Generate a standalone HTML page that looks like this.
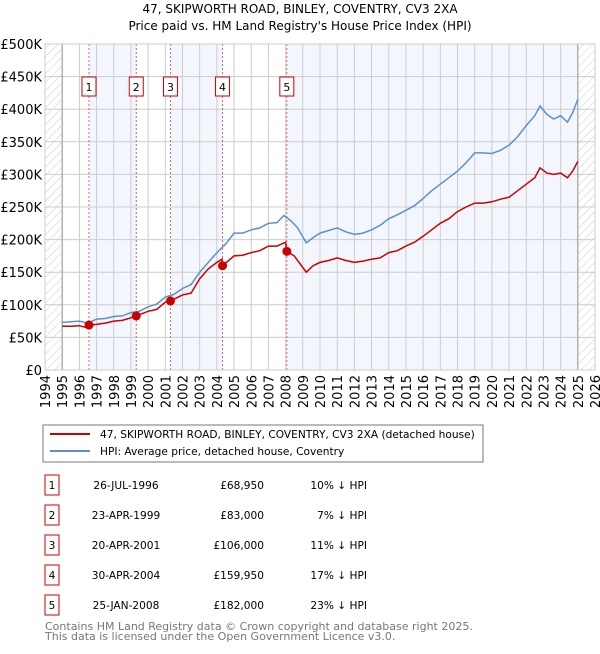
<!DOCTYPE html>
<html><head><meta charset="utf-8"><style>
body{margin:0;background:#fff;font-family:"DejaVu Sans","Liberation Sans",sans-serif;}
svg text{font-family:"DejaVu Sans","Liberation Sans",sans-serif;}
</style></head><body>
<svg id="c" width="600" height="650" xmlns="http://www.w3.org/2000/svg">
<defs><pattern id="hatch" width="6" height="6" patternUnits="userSpaceOnUse" patternTransform="rotate(45)"><line x1="0" y1="0" x2="0" y2="6" stroke="#ccc" stroke-width="1"/></pattern></defs>
<text x="300" y="13" text-anchor="middle" font-size="12">47, SKIPWORTH ROAD, BINLEY, COVENTRY, CV3 2XA</text>
<text x="300" y="30" text-anchor="middle" font-size="12">Price paid vs. HM Land Registry's House Price Index (HPI)</text>
<g id="plot"></g>
<rect x="43" y="425" width="440" height="37" fill="#fff" stroke="#777"/>
<line x1="50" y1="434" x2="90" y2="434" stroke="#cc0000" stroke-width="2"/>
<text x="100" y="438" font-size="10.6">47, SKIPWORTH ROAD, BINLEY, COVENTRY, CV3 2XA (detached house)</text>
<line x1="50" y1="451" x2="90" y2="451" stroke="#5b8fd4" stroke-width="2"/>
<text x="100" y="455" font-size="10.6">HPI: Average price, detached house, Coventry</text>
<g id="table" font-size="10.6"></g>
<text x="45" y="630" font-size="11" fill="#777">Contains HM Land Registry data © Crown copyright and database right 2025.</text>
<text x="45" y="640" font-size="11" fill="#777">This data is licensed under the Open Government Licence v3.0.</text>
</svg>
<script>
const hpiYears=[1995,1995.5,1996,1996.5,1997,1997.5,1998,1998.5,1999,1999.5,2000,2000.5,2001,2001.5,2002,2002.5,2003,2003.5,2004,2004.5,2005,2005.5,2006,2006.5,2007,2007.5,2007.9,2008.3,2008.7,2009.2,2009.6,2010,2010.5,2011,2011.5,2012,2012.5,2013,2013.5,2014,2014.5,2015,2015.5,2016,2016.5,2017,2017.5,2018,2018.5,2019,2019.5,2020,2020.5,2021,2021.5,2022,2022.5,2022.8,2023.2,2023.6,2024,2024.4,2024.7,2025];
const hpiValues=[73,74,75,72,78,79,82,83,88,90,97,101,112,116,125,131,150,165,180,193,210,210,215,218,225,226,237,229,218,195,203,210,214,218,212,208,210,215,222,232,238,245,252,263,275,285,295,305,318,333,333,332,337,345,358,375,390,405,392,385,390,380,395,415];
const priceYears=[1995,1995.5,1996,1996.4,1996.56,1997,1997.5,1998,1998.5,1999,1999.31,2000,2000.5,2001,2001.3,2002,2002.5,2003,2003.5,2004,2004.3,2004.33,2005,2005.5,2006,2006.5,2007,2007.5,2008,2008.07,2008.5,2009.2,2009.6,2010,2010.5,2011,2011.5,2012,2012.5,2013,2013.5,2014,2014.5,2015,2015.5,2016,2016.5,2017,2017.5,2018,2018.5,2019,2019.5,2020,2020.5,2021,2021.5,2022,2022.5,2022.8,2023.2,2023.6,2024,2024.4,2024.7,2025];
const priceValues=[67,67,68,65,69,70,72,75,76,80,83,90,93,104,106,115,118,140,155,165,170,159.95,175,176,180,183,190,190,196,182,175,150,160,165,168,172,168,165,167,170,172,180,183,190,196,205,215,225,232,243,250,256,256,258,262,265,275,285,295,310,302,300,302,295,305,320];
const saleYears=[1996.56,1999.31,2001.30,2004.33,2008.07];
const salePrices=[68950,83000,106000,159950,182000];
const saleDates=["26-JUL-1996","23-APR-1999","20-APR-2001","30-APR-2004","25-JAN-2008"];
const salePriceLabels=["£68,950","£83,000","£106,000","£159,950","£182,000"];
const saleDiffs=["10% ↓ HPI","7% ↓ HPI","11% ↓ HPI","17% ↓ HPI","23% ↓ HPI"];
const yTicks=[0,50,100,150,200,250,300,350,400,450,500];
const yTickLabels=["£0","£50K","£100K","£150K","£200K","£250K","£300K","£350K","£400K","£450K","£500K"];
const xTicks=[1994,1995,1996,1997,1998,1999,2000,2001,2002,2003,2004,2005,2006,2007,2008,2009,2010,2011,2012,2013,2014,2015,2016,2017,2018,2019,2020,2021,2022,2023,2024,2025,2026];

const L=45,R=595,T=44,B=370;
const X=y=>L+(y-1994)/32*(R-L);
const Y=v=>B-v/500*(B-T);
const NS="http://www.w3.org/2000/svg";
const g=document.getElementById('plot');
function mk(tag,attrs,parent){const e=document.createElementNS(NS,tag);for(const k in attrs)e.setAttribute(k,attrs[k]);(parent||g).appendChild(e);return e;}
let e;
e=mk('rect',{x:L,y:T,width:R-L,height:B-T,fill:'#fff'});


const bands=[[saleYears[0],saleYears[1]],[saleYears[2],saleYears[3]],[saleYears[4],2025]];
bands.forEach(b=>{e=mk('rect',{x:X(b[0]),y:T,width:X(b[1])-X(b[0]),height:B-T,fill:'#f3f7fd'});

});
e=mk('rect',{x:L,y:T,width:X(1995)-L,height:B-T,fill:'url(#hatch)'});


e=mk('rect',{x:X(2025),y:T,width:R-X(2025),height:B-T,fill:'url(#hatch)'});


yTicks.forEach((v,i)=>{e=mk('line',{x1:L,x2:R,y1:Y(v),y2:Y(v),stroke:'#ccc'});


e=mk('text',{x:L-3,y:Y(v)+5,'text-anchor':'end','font-size':13});e.textContent=yTickLabels[i];

});
xTicks.forEach(y=>{e=mk('line',{x1:X(y),x2:X(y),y1:T,y2:B,stroke:'#ccc'});


e=mk('text',{x:0,y:0,'text-anchor':'end','font-size':13,transform:`translate(${X(y)+5},${B+5}) rotate(-90)`});e.textContent=y;

});
e=mk('line',{x1:X(1995),x2:X(1995),y1:T,y2:B,stroke:'#999'});


e=mk('line',{x1:X(2025),x2:X(2025),y1:T,y2:B,stroke:'#999'});


saleYears.forEach((y,i)=>{e=mk('line',{x1:X(y),x2:X(y),y1:T,y2:B,stroke:'#e06060','stroke-dasharray':'2,2'});


e=mk('rect',{x:X(y)-7,y:77,width:14,height:19,fill:'#fff',stroke:'#cc0000'});


e=mk('text',{x:X(y),y:91,'text-anchor':'middle','font-size':11});e.textContent=i+1;

});
e=mk('path',{d:hpiYears.map((y,i)=>(i?'L':'M')+X(y).toFixed(1)+','+Y(hpiValues[i]).toFixed(1)).join(''),fill:'none',stroke:'#5b8fd4','stroke-width':1.5});


e=mk('path',{d:priceYears.map((y,i)=>(i?'L':'M')+X(y).toFixed(1)+','+Y(priceValues[i]).toFixed(1)).join(''),fill:'none',stroke:'#cc0000','stroke-width':1.5});


saleYears.forEach((y,i)=>{e=mk('circle',{cx:X(y),cy:Y(salePrices[i]/1000),r:4.5,fill:'#cc0000'});

});
e=mk('rect',{x:L,y:T,width:R-L,height:B-T,fill:'none',stroke:'#ccc'});


const tb=document.getElementById('table');
saleDates.forEach((d,i)=>{const ty=475+i*30;
e=mk('rect',{x:45,y:ty,width:14,height:20,fill:'#fff',stroke:'#cc0000'},tb);


e=mk('text',{x:52,y:ty+14,'text-anchor':'middle'},tb);e.textContent=i+1;


e=mk('text',{x:126,y:ty+14,'text-anchor':'middle'},tb);e.textContent=d;


e=mk('text',{x:264,y:ty+14,'text-anchor':'end'},tb);e.textContent=salePriceLabels[i];


e=mk('text',{x:367,y:ty+14,'text-anchor':'end'},tb);e.textContent=saleDiffs[i];

});
</script>
</body></html>
